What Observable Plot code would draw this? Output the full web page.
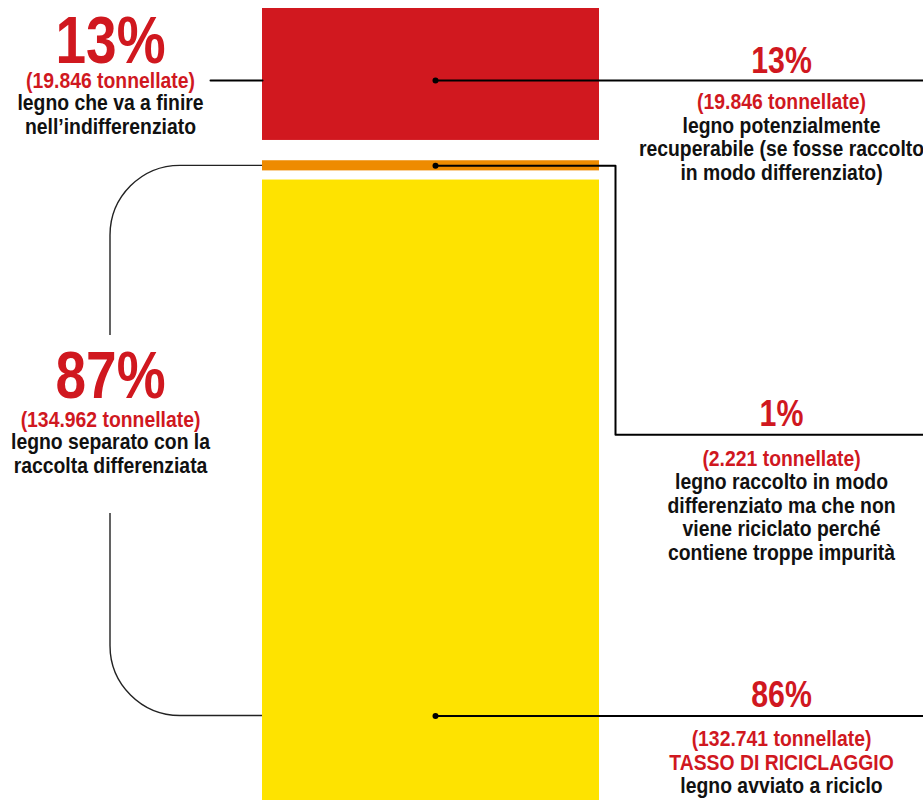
<!DOCTYPE html>
<html><head><meta charset="utf-8">
<script src="https://cdn.jsdelivr.net/npm/d3@7"></script>
<script src="https://cdn.jsdelivr.net/npm/@observablehq/plot@0.6"></script>
<style>
body{margin:0;background:#fff;overflow:hidden}
svg{overflow:hidden}
</style>
</head><body><div id="chart"></div>
<script>
// ---- DATA ----
const categorie = ["indifferenziato", "scartato", "riciclato"];
const percentuali = [13, 1, 86];
const tonnellate = [19846, 2221, 132741];
const differenziataPct = 87;
const differenziataTon = 134962;
const descrizioniDestra = [
  "legno potenzialmente\nrecuperabile (se fosse raccolto\nin modo differenziato)",
  "legno raccolto in modo\ndifferenziato ma che non\nviene riciclato perché\ncontiene troppe impurità",
  "legno avviato a riciclo"
];
const descrizioneIndiff = "legno che va a finire\nnell’indifferenziato";
const descrizioneDiff = "legno separato con la\nraccolta differenziata";
const etichettaRiciclo = "TASSO DI RICICLAGGIO";

// ---- LAYOUT / STYLE ----
const W = 923, H = 800;
const FONT = "'Liberation Sans', Arial, sans-serif";
const RED = "#d0181f", INK = "#111";
const colori = ["#d1181f", "#ee8b00", "#fee300"];
const gaps = [0, 2, 0.9];          // spacing between segments, in % units
const barX = [262, 599];
const dotX = 435;
const anchorsY = [7.1, 15.5, 69.7]; // leader anchors, in % units
const elbowX = 615, elbowY = 42;

const fmt = d3.formatLocale({decimal: ",", thousands: ".", grouping: [3], currency: ["", "€"]}).format(",d");
const ton = v => `(${fmt(v)} tonnellate)`;

let acc = 0;
const segmenti = categorie.map((c, i) => {
  acc += gaps[i];
  const y1 = acc; acc += percentuali[i];
  return {categoria: c, y1, y2: acc, fill: colori[i], x1: barX[0], x2: barX[1]};
});

const leaders = [
  [{x: dotX, y: anchorsY[0]}, {x: W, y: anchorsY[0]}],
  [{x: dotX, y: anchorsY[1]}, {x: elbowX, y: anchorsY[1]}, {x: elbowX, y: elbowY}, {x: W, y: elbowY}],
  [{x: dotX, y: anchorsY[2]}, {x: W, y: anchorsY[2]}],
  [{x: 210, y: anchorsY[0]}, {x: barX[0], y: anchorsY[0]}]
].flatMap((pts, k) => pts.map(p => ({...p, k})));

function label(txt, x, yBase, size, color, lh = 23.5) {
  return Plot.text([txt], {
    frameAnchor: "top-left", dx: x, dy: yBase,
    textAnchor: "middle", lineAnchor: "bottom",
    fontSize: size, fontWeight: "bold", fontFamily: FONT,
    fill: color, lineHeight: lh / size
  });
}
const LX = 110, RX = 781, S = 22, BIG = 67, MID = 37;

const chart = Plot.plot({
  width: W, height: H,
  margin: 0,
  style: {overflow: "hidden", background: "#fff"},
  x: {type: "linear", domain: [0, W], range: [0, W], axis: null},
  y: {type: "linear", domain: [0, 100], range: [8, 8 + 1015], axis: null},
  marks: [
    Plot.rect(segmenti, {x1: "x1", x2: "x2", y1: "y1", y2: "y2", fill: "fill", clip: true}),
    Plot.line(leaders, {x: "x", y: "y", z: "k", stroke: "#000", strokeWidth: 2, curve: "linear"}),
    Plot.dot(anchorsY.map(y => ({x: dotX, y})), {x: "x", y: "y", r: 3, fill: "#000"}),
    // left: indifferenziato
    label(`${percentuali[0]}%`, LX, 62, BIG, RED),
    label(ton(tonnellate[0]), LX, 87, S, RED),
    label(descrizioneIndiff, LX, 133, S, INK),
    // left: differenziata
    label(`${differenziataPct}%`, LX, 397, BIG, RED),
    label(ton(differenziataTon), LX, 426, S, RED),
    label(descrizioneDiff, LX, 472, S, INK),
    // right 1
    label(`${percentuali[0]}%`, RX, 72, MID, RED),
    label(ton(tonnellate[0]), RX, 108, S, RED),
    label(descrizioniDestra[0], RX, 179, S, INK),
    // right 2
    label(`${percentuali[1]}%`, RX, 425, MID, RED),
    label(ton(tonnellate[1]), RX, 465, S, RED),
    label(descrizioniDestra[1], RX, 559, S, INK),
    // right 3
    label(`${percentuali[2]}%`, RX, 706, MID, RED),
    label(ton(tonnellate[2]), RX, 745, S, RED),
    label(etichettaRiciclo, RX, 769, S, RED),
    label(descrizioniDestra[2], RX, 792, S, INK)
  ]
});
document.getElementById("chart").appendChild(chart);

// condensed look: horizontally compress glyphs of every label
chart.querySelectorAll("text").forEach(t => {
  const fs = parseFloat(getComputedStyle(t).fontSize);
  const k = fs >= 30 ? 0.82 : 0.88;
  const parts = t.querySelectorAll("tspan");
  (parts.length ? Array.from(parts) : [t]).forEach(el => {
    const len = el.getComputedTextLength();
    el.setAttribute("textLength", (len * k).toFixed(1));
    el.setAttribute("lengthAdjust", "spacingAndGlyphs");
  });
});

// bracket for "raccolta differenziata" (orange + yellow)
const ys = chart.scale("y"), xs = chart.scale("x");
const yt = ys.apply(anchorsY[1]), yb = ys.apply(anchorsY[2]);
const bx = xs.apply(110), r = 70, bx0 = xs.apply(barX[0]);
const p = `M${bx0},${yt}H${bx + r}A${r},${r} 0 0 0 ${bx},${yt + r}V335M${bx},513V${yb - r}A${r},${r} 0 0 0 ${bx + r},${yb}H${bx0}`;
d3.select(chart).append("path").attr("d", p).attr("fill", "none").attr("stroke", "#222").attr("stroke-width", 1.4);
</script>
</body></html>
